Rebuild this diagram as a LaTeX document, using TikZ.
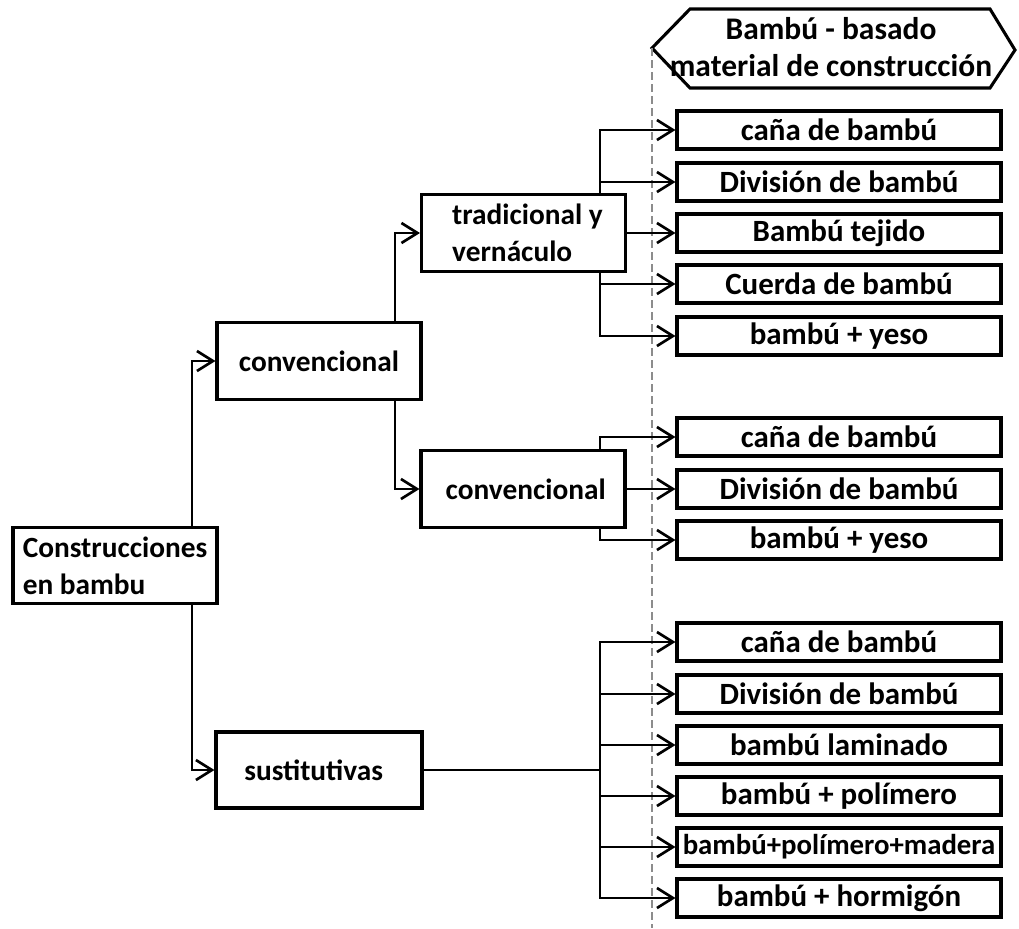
\documentclass[tikz,border=0pt]{standalone}
\usepackage{fontspec}
\setmainfont{Carlito}
\usetikzlibrary{arrows.meta,calc}
\begin{document}
\begin{tikzpicture}[x=0.75pt,y=-0.75pt,
  txt/.style={font=\fontsize{22}{27.5}\selectfont\bfseries},
  rtxt/.style={font=\fontsize{23.2}{27.5}\selectfont\bfseries},
  htxt/.style={font=\fontsize{23.6}{28}\selectfont\bfseries},
  box/.style={draw, line width=2.3pt, inner sep=0pt, txt, align=center},
  rbox/.style={box, rtxt, minimum width=243pt, minimum height=28.5pt},
  lbox/.style={box, minimum width=153pt, minimum height=57.5pt},
  conn/.style={line width=2pt, -{Straight Barb[length=12pt,width=15pt,line width=2pt]}},
  plain/.style={line width=2pt},
  sep/.style={draw=black!45, line width=1.5pt, dash pattern=on 6pt off 3pt}
]
\useasboundingbox (0,0) rectangle (1019,928);

% header
\draw[line width=2.3pt, line join=miter] (652,48) -- (690,9) -- (990,9) -- (1015,50) -- (990,88) -- (690,88) -- cycle;
\node[htxt, align=center] (hdr) at (831,47) {Bambú - basado\\material de construcción};
\draw[sep] (652,48) -- (652,928);

\coordinate (t1) at (600,0);
\coordinate (v1) at (192,0);
\coordinate (v2) at (395,0);

% left side
\node[lbox, align=left] (root) at (115,565.5) {Construcciones\\en bambu};
\node[lbox] (conv1) at (319,361) {convencional};
\node[lbox, align=left] (trad) at (523.5,233) {\hspace*{6pt}tradicional y\\\hspace*{6pt}vernáculo};
\node[lbox] (conv2) at (523,489) {\hspace*{4pt}convencional};
\node[lbox, minimum width=154.5pt, minimum height=57pt] (sust) at (319,770) {sustitutivas\hspace*{8pt}};

% right boxes
\node[rbox] (a1) at (839,130) {caña de bambú};
\node[rbox] (a2) at (839,182) {División de bambú};
\node[rbox] (a3) at (839,233) {Bambú tejido};
\node[rbox] (a4) at (839,284) {Cuerda de bambú};
\node[rbox] (a5) at (839,336) {bambú + yeso};

\node[rbox] (b1) at (839,437) {caña de bambú};
\node[rbox] (b2) at (839,489) {División de bambú};
\node[rbox] (b3) at (839,540) {bambú + yeso};

\node[rbox] (c1) at (839,642) {caña de bambú};
\node[rbox] (c2) at (839,694) {División de bambú};
\node[rbox] (c3) at (839,745) {bambú laminado};
\node[rbox] (c4) at (839,796) {bambú + polímero};
\node[rbox, font=\fontsize{21.6}{26}\selectfont\bfseries] (c5) at (839,847) {bambú+polímero+madera};
\node[rbox] (c6) at (839,898) {bambú + hormigón};

% connectors
\draw[conn] (root.north -| v1) |- (conv1.west);
\draw[conn] (root.south -| v1) |- (sust.west);
\draw[conn] (conv1.north -| v2) |- (trad.west);
\draw[conn] (conv1.south -| v2) |- (conv2.west);

\draw[conn] (trad.north -| t1) |- (a1.west);
\draw[conn] (trad.north -| t1) |- (a2.west);
\draw[conn] (trad.east) -- (a3.west);
\draw[conn] (trad.south -| t1) |- (a4.west);
\draw[conn] (trad.south -| t1) |- (a5.west);

\draw[conn] (conv2.north -| t1) |- (b1.west);
\draw[conn] (conv2.east) -- (b2.west);
\draw[conn] (conv2.south -| t1) |- (b3.west);

\draw[plain] (sust.east) -- (sust.east -| t1);
\foreach \c in {c1,c2,c3,c4,c5,c6}
  \draw[conn] (sust.east -| t1) |- (\c.west);
\end{tikzpicture}
\end{document}
